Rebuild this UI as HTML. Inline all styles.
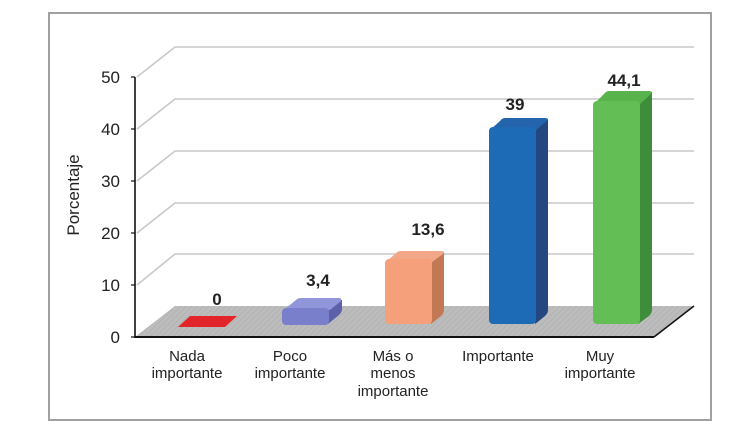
<!DOCTYPE html>
<html><head><meta charset="utf-8"><style>
html,body{margin:0;padding:0;background:#fff;}
svg{display:block;}
text{font-family:"Liberation Sans",Arial,sans-serif;fill:#222;}
</style></head><body>
<svg width="751" height="444" viewBox="0 0 751 444" xmlns="http://www.w3.org/2000/svg">
<defs>
<pattern id="hatch" width="4" height="4" patternUnits="userSpaceOnUse" patternTransform="rotate(45)">
<rect width="4" height="4" fill="#bcbcbc"/>
<line x1="0" y1="0" x2="0" y2="4" stroke="#acacac" stroke-width="1.2"/>
</pattern>
</defs>
<rect x="49" y="13" width="662" height="407" fill="#fff" stroke="#a0a0a0" stroke-width="2"/>
<!-- gridlines -->
<g stroke="#c8c8c8" stroke-width="1.6" fill="none">
<polyline points="137,77 175,47 694,47"/>
<polyline points="137,129 175,99 694,99"/>
<polyline points="137,181 175,151 694,151"/>
<polyline points="137,233 175,203 694,203"/>
<polyline points="137,285 175,254 694,254"/>
</g>
<!-- floor -->
<polygon points="135,337 175,306 694,306 654,337" fill="url(#hatch)"/>
<line x1="135" y1="337" x2="654" y2="337" stroke="#111" stroke-width="2"/>
<line x1="654" y1="337" x2="694" y2="306" stroke="#111" stroke-width="1.5"/>
<!-- y axis -->
<line x1="135" y1="77" x2="135" y2="338" stroke="#111" stroke-width="1.6"/>
<g stroke="#111" stroke-width="1.2">
<line x1="131" y1="77" x2="135" y2="77"/>
<line x1="131" y1="129" x2="135" y2="129"/>
<line x1="131" y1="181" x2="135" y2="181"/>
<line x1="131" y1="233" x2="135" y2="233"/>
<line x1="131" y1="285" x2="135" y2="285"/>
<line x1="131" y1="337" x2="135" y2="337"/>
</g>
<g font-size="17" text-anchor="end">
<text x="120" y="83">50</text>
<text x="120" y="135">40</text>
<text x="120" y="187">30</text>
<text x="120" y="239">20</text>
<text x="120" y="291">10</text>
<text x="120" y="343">0</text>
</g>
<text transform="translate(79,195) rotate(-90)" font-size="17" text-anchor="middle">Porcentaje</text>

<!-- red bar (0) -->
<polygon points="178,327 225,327 237,316 190,316" fill="#e2242b"/>

<!-- lavender bar (3.4) -->
<path d="M328,324 L339,315 Q342,312 342,309 L342,300 L330,300 Q328,309 328,309 Z" fill="#5c60a8"/>
<path d="M285,309 L296,300 Q298,298 301,298 L339,298 Q342,298 341,301 L330,310 Z" fill="#9196da"/>
<rect x="282" y="308" width="47" height="17" rx="4" fill="#7a7fcb"/>

<!-- orange bar (13.6) -->
<path d="M431,324 L441,316 Q444,313 444,310 L444,252 L432,262 Z" fill="#c27852"/>
<path d="M386,262 L396,253 Q398,251 401,251 L441,251 Q445,251 443,254 L432,262 Z" fill="#f2a888"/>
<rect x="385" y="259" width="47" height="65" rx="4" fill="#f5a07b"/>

<!-- blue bar (39) -->
<path d="M535,324 L545,316 Q548,313 548,310 L548,119 L536,129 Z" fill="#24477f"/>
<path d="M490,130 L500,121 Q502,118 505,118 L545,118 Q549,118 547,121 L536,130 Z" fill="#2364ac"/>
<rect x="489" y="127" width="47" height="197" rx="4" fill="#1d6ab6"/>

<!-- green bar (44.1) -->
<path d="M638,324 L649,316 Q652,313 652,310 L652,92 L640,103 Z" fill="#3e8d3b"/>
<path d="M594,104 L604,94 Q606,91 609,91 L649,91 Q653,91 651,94 L640,104 Z" fill="#58b34c"/>
<rect x="593" y="101" width="47" height="223" rx="4" fill="#64be56"/>

<!-- value labels -->
<g font-size="17" font-weight="bold" text-anchor="middle">
<text x="217" y="305">0</text>
<text x="318" y="286">3,4</text>
<text x="428" y="235">13,6</text>
<text x="515" y="110">39</text>
<text x="624" y="86">44,1</text>
</g>

<!-- category labels -->
<g font-size="15" text-anchor="middle">
<text x="187" y="361">Nada</text>
<text x="187" y="378">importante</text>
<text x="290" y="361">Poco</text>
<text x="290" y="378">importante</text>
<text x="393" y="361">Más o</text>
<text x="393" y="378">menos</text>
<text x="393" y="396">importante</text>
<text x="498" y="361">Importante</text>
<text x="600" y="361">Muy</text>
<text x="600" y="378">importante</text>
</g>
</svg>
</body></html>
